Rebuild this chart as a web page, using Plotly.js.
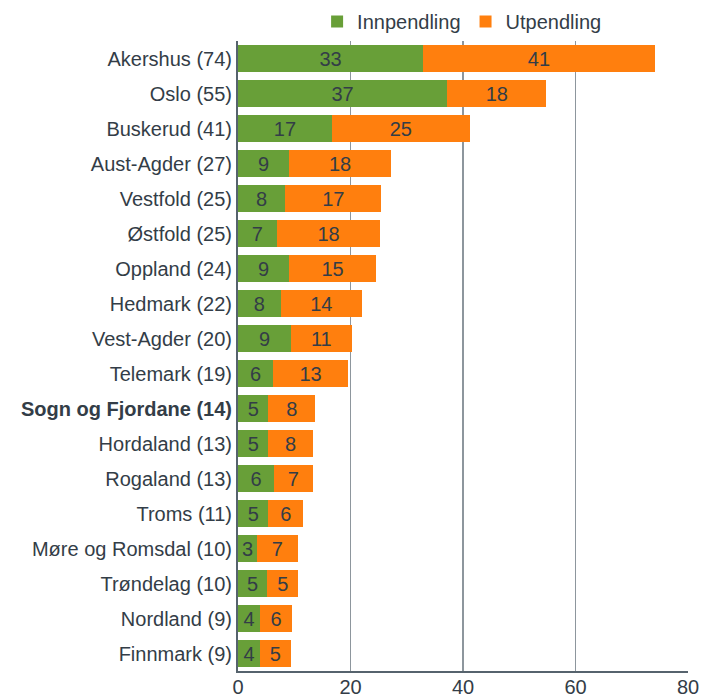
<!DOCTYPE html>
<html>
<head>
<meta charset="utf-8">
<script src="https://cdn.plot.ly/plotly-3.0.1.min.js"></script>
<style>html,body{margin:0;padding:0;background:#fff;}#chart{width:715px;height:698px;}</style>
</head>
<body>
<div id="chart"></div>
<script>
const categories = ["Akershus (74)","Oslo (55)","Buskerud (41)","Aust-Agder (27)","Vestfold (25)","Østfold (25)","Oppland (24)","Hedmark (22)","Vest-Agder (20)","Telemark (19)","Sogn og Fjordane (14)","Hordaland (13)","Rogaland (13)","Troms (11)","Møre og Romsdal (10)","Trøndelag (10)","Nordland (9)","Finnmark (9)"];
const innpendling = [32.9,37.2,16.7,9.1,8.4,6.9,9.1,7.6,9.4,6.2,5.4,5.4,6.4,5.4,3.4,5.2,3.9,3.9];
const utpendling = [41.2,17.6,24.5,18.1,17.1,18.4,15.4,14.4,10.8,13.4,8.3,7.9,6.9,6.2,7.2,5.5,5.7,5.5];
const innLabels = ["33","37","17","9","8","7","9","8","9","6","5","5","6","5","3","5","4","4"];
const utLabels = ["41","18","25","18","17","18","15","14","11","13","8","8","7","6","7","5","6","5"];
const highlight = "Sogn og Fjordane (14)";
const xTicks = [0,20,40,60,80];

const tickText = categories.map(c => c === highlight ? "<b>" + c + "</b>" : c);
const FS = 20;
const textFont = {family: "Liberation Sans, Arial, sans-serif", size: FS, color: "#333d47"};

const traces = [
  {type:"bar", orientation:"h", name:"Innpendling", y:categories, x:innpendling,
   text:innLabels, textposition:"inside", insidetextanchor:"middle", textangle:0, textfont:textFont,
   constraintext:"none", marker:{color:"#689f38"}, hoverinfo:"x+y"},
  {type:"bar", orientation:"h", name:"Utpendling", y:categories, x:utpendling,
   text:utLabels, textposition:"inside", insidetextanchor:"middle", textangle:0, textfont:textFont,
   constraintext:"none", marker:{color:"#ff7f0e"}, hoverinfo:"x+y"}
];

const layout = {
  width:715, height:698,
  margin:{l:238, r:27, t:41, b:27, pad:0, autoexpand:false},
  barmode:"stack", bargap:0.23,
  uniformtext:{mode:false},
  paper_bgcolor:"#fff", plot_bgcolor:"#fff",
  font:{family:"Liberation Sans, Arial, sans-serif", size:FS, color:"#333d47"},
  showlegend:true,
  legend:{orientation:"h", x:0.498, xanchor:"center", y:1.0, yanchor:"bottom",
          font:{size:FS, color:"#333d47"}, itemwidth:20, traceorder:"normal"},
  xaxis:{range:[0,80], tickvals:xTicks, ticktext:xTicks.map(String), showgrid:true,
         gridcolor:"#8d969d", gridwidth:1.5, showline:true, linecolor:"#56636d", linewidth:2,
         zeroline:false, ticks:"", ticklabelstandoff:-3, tickfont:{size:FS, color:"#333d47"}, fixedrange:true, automargin:false},
  yaxis:{type:"category", categoryorder:"array", categoryarray:categories,
         tickvals:categories, ticktext:tickText, autorange:"reversed",
         showline:true, linecolor:"#56636d", linewidth:2, showgrid:false, ticks:"",
         ticklabelstandoff:0, tickfont:{size:FS, color:"#333d47"}, fixedrange:true, automargin:false}
};

Plotly.newPlot("chart", traces, layout, {displayModeBar:false, staticPlot:true});
</script>
</body>
</html>
